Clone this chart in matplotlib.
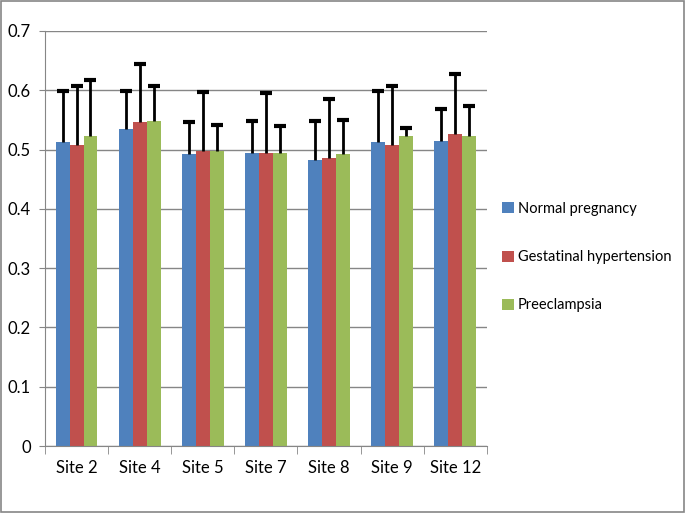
import numpy as np
import matplotlib.pyplot as plt

plt.rcParams['font.family'] = ['Lato', 'DejaVu Sans']

sites = ['Site 2', 'Site 4', 'Site 5', 'Site 7', 'Site 8', 'Site 9', 'Site 12']
normal = [0.513, 0.534, 0.493, 0.495, 0.482, 0.513, 0.515]
gestational = [0.508, 0.546, 0.497, 0.495, 0.486, 0.508, 0.526]
preeclampsia = [0.523, 0.549, 0.497, 0.495, 0.493, 0.523, 0.523]
normal_err = [0.086, 0.065, 0.053, 0.053, 0.066, 0.086, 0.054]
gestational_err = [0.100, 0.099, 0.100, 0.100, 0.100, 0.100, 0.101]
preeclampsia_err = [0.094, 0.059, 0.044, 0.044, 0.057, 0.014, 0.050]

series = [
    ('Normal pregnancy', normal, normal_err, '#4F81BD'),
    ('Gestatinal hypertension', gestational, gestational_err, '#C0504D'),
    ('Preeclampsia', preeclampsia, preeclampsia_err, '#9BBB59'),
]

fig = plt.figure(figsize=(6.85, 5.13), dpi=100)
ax = fig.add_axes([0.0657, 0.1306, 0.645, 0.809])

x = np.arange(len(sites))
w = 0.22
for i, (name, vals, errs, col) in enumerate(series):
    pos = x + (i - 1) * w
    vals = np.array(vals)
    tops = vals + np.array(errs)
    ax.bar(pos, vals, width=w, color=col, label=name, zorder=2)
    # upper error bar only, like the excel "plus" style
    ax.vlines(pos, vals, tops, color='black', linewidth=2, zorder=3)
    ax.plot(pos, tops, ls='none', marker='_', ms=8, mew=3, color='black', zorder=3)

ax.set_xlim(-0.5, len(sites) - 0.5)
ax.set_ylim(0, 0.7)
ax.set_yticks(np.arange(0, 0.71, 0.1))
ax.set_yticklabels(['0', '0.1', '0.2', '0.3', '0.4', '0.5', '0.6', '0.7'])
ax.set_xticks(x)
ax.set_xticklabels(sites)
ax.set_xticks(np.arange(-0.5, len(sites), 1), minor=True)
ax.tick_params(axis='x', which='major', length=0, pad=10, labelsize=12)
ax.tick_params(axis='x', which='minor', length=6, color='#868686')
ax.tick_params(axis='y', length=4, color='#868686', labelsize=12, pad=6)
ax.yaxis.grid(True, color='#868686', linewidth=1, zorder=0)
ax.set_axisbelow(True)
for s in ['top', 'right']:
    ax.spines[s].set_visible(False)
for s in ['left', 'bottom']:
    ax.spines[s].set_color('#868686')

ax.legend(loc='center left', bbox_to_anchor=(1.018, 0.455), frameon=False,
          fontsize=10.5, handlelength=0.8, handleheight=0.8, handletextpad=0.3,
          labelspacing=2.35, borderpad=0)

fig.patches.append(plt.Rectangle((0.002, 0.002), 0.996, 0.996, transform=fig.transFigure,
                                 fill=False, edgecolor='#868686', linewidth=1.2))

fig.savefig('out.png', dpi=100)
